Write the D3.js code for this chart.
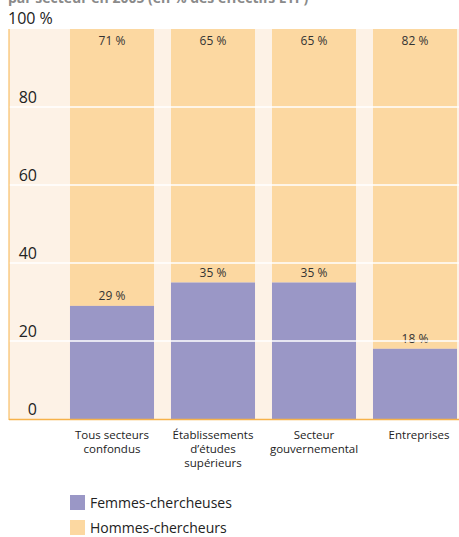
<!DOCTYPE html>
<html>
<head>
<meta charset="utf-8">
<script src="https://cdn.jsdelivr.net/npm/d3@7"></script>
<style>
  body { margin: 0; background: #fff; }
  svg { display: block; font-family: "Open Sans", sans-serif; }
</style>
</head>
<body>
<svg id="chart"></svg>
<script>
// Chart data
const categories = [
    ["Tous secteurs", "confondus"],
    ["Établissements", "d’études", "supérieurs"],
    ["Secteur", "gouvernemental"],
    ["Entreprises"]
];
const femmes = [29, 35, 35, 18];
const hommes = [71, 65, 65, 82];
const yTicks = [0, 20, 40, 60, 80, 100];
const seriesNames = ["Femmes-chercheuses", "Hommes-chercheurs"];
const colors = ["#9a97c6", "#fcd8a1"];

const width = 459, height = 537;
const svg = d3.select("#chart").attr("width", width).attr("height", height);

const plot = { left: 9, right: 459, top: 29, bottom: 419 };

const x = d3.scaleBand()
    .domain(d3.range(categories.length))
    .range([61.5, 465.5])
    .paddingInner(0.168)
    .paddingOuter(0.084);

const y = d3.scaleLinear().domain([0, 100]).range([plot.bottom, plot.top]);

// Title (cut off at top of picture)
svg.append("text")
    .attr("x", 8).attr("y", 3)
    .attr("font-size", 14).attr("font-weight", "bold")
    .attr("fill", "#8a8a8a")
    .text("par secteur en 2005 (en % des effectifs ETP)");

// Plot background
svg.append("rect")
    .attr("x", plot.left).attr("y", plot.top)
    .attr("width", plot.right - plot.left).attr("height", plot.bottom - plot.top)
    .attr("fill", "#fdf2e6");

// Stacked bars
const bars = svg.append("g").selectAll("g")
    .data(categories)
    .enter().append("g");

bars.append("rect")
    .attr("x", (d, i) => x(i)).attr("width", x.bandwidth())
    .attr("y", (d, i) => y(100)).attr("height", (d, i) => y(femmes[i]) - y(100))
    .attr("fill", colors[1]);

bars.append("rect")
    .attr("x", (d, i) => x(i)).attr("width", x.bandwidth())
    .attr("y", (d, i) => y(femmes[i])).attr("height", (d, i) => y(0) - y(femmes[i]))
    .attr("fill", colors[0]);

// Gridlines (white, over bars)
svg.append("g").selectAll("line")
    .data(yTicks.filter(t => t > 0 && t < 100))
    .enter().append("line")
    .attr("x1", plot.left).attr("x2", plot.right)
    .attr("y1", d => y(d)).attr("y2", d => y(d))
    .attr("stroke", "#ffffff").attr("stroke-width", 1.5);

// Value labels
bars.append("text")
    .attr("x", (d, i) => x(i) + x.bandwidth() / 2)
    .attr("y", (d, i) => y(100) + 16)
    .attr("text-anchor", "middle").attr("font-size", 12).attr("fill", "#333")
    .text((d, i) => hommes[i] + " %");

bars.append("text")
    .attr("x", (d, i) => x(i) + x.bandwidth() / 2)
    .attr("y", (d, i) => y(femmes[i]) - 6)
    .attr("text-anchor", "middle").attr("font-size", 12).attr("fill", "#333")
    .text((d, i) => femmes[i] + " %");

// Axis lines
svg.append("line")
    .attr("x1", plot.left).attr("x2", plot.left)
    .attr("y1", plot.top).attr("y2", plot.bottom + 1)
    .attr("stroke", "#f7b24a").attr("stroke-width", 1);
svg.append("line")
    .attr("x1", plot.left).attr("x2", plot.right)
    .attr("y1", plot.bottom + 0.5).attr("y2", plot.bottom + 0.5)
    .attr("stroke", "#f7b24a").attr("stroke-width", 1.5);

// Y tick labels
svg.append("g").selectAll("text")
    .data(yTicks)
    .enter().append("text")
    .attr("x", d => d === 100 ? 8 : 37)
    .attr("y", d => d === 100 ? y(d) - 5 : y(d) - 4)
    .attr("text-anchor", d => d === 100 ? "start" : "end")
    .attr("font-size", 16).attr("fill", "#222")
    .text(d => d === 100 ? "100 %" : d);

// Category labels
const catLabels = svg.append("g").selectAll("text")
    .data(categories)
    .enter().append("text")
    .attr("text-anchor", "middle").attr("font-size", 11.5).attr("fill", "#222");
catLabels.selectAll("tspan")
    .data((d, i) => d.map(line => ({ line, i })))
    .enter().append("tspan")
    .attr("x", d => x(d.i) + x.bandwidth() / 2 + (d.i === 3 ? 4 : 0))
    .attr("y", (d, j) => 439 + j * 14)
    .text(d => d.line);

// Legend
const legend = svg.append("g").selectAll("g")
    .data(seriesNames)
    .enter().append("g")
    .attr("transform", (d, i) => `translate(70, ${495 + i * 25})`);
legend.append("rect")
    .attr("width", 15).attr("height", 15)
    .attr("fill", (d, i) => colors[i]);
legend.append("text")
    .attr("x", 20).attr("y", 13)
    .attr("font-size", 14).attr("fill", "#222")
    .text(d => d);
</script>
</body>
</html>
